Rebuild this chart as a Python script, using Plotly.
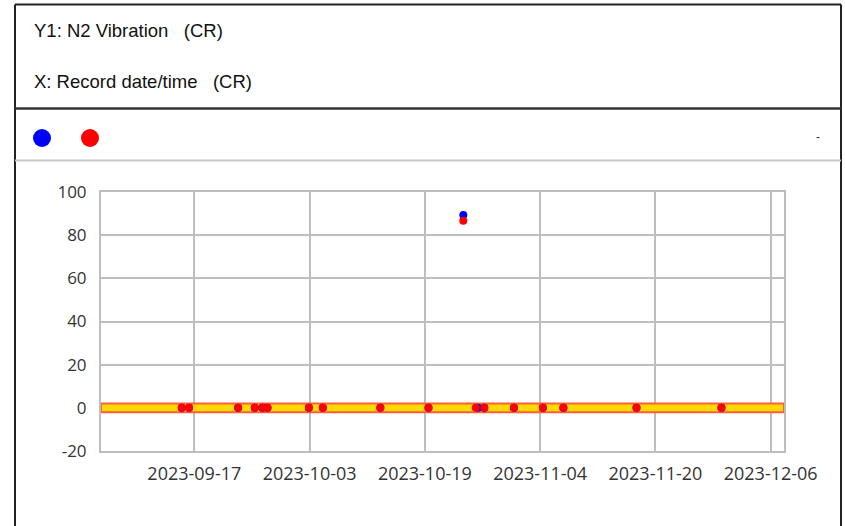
import plotly.graph_objects as go

# ---- data ----
red_dates = ["2023-09-15 06:00", "2023-09-16 06:30", "2023-09-23 02:00", "2023-09-25 09:30",
             "2023-09-26 11:00", "2023-09-27 03:40", "2023-10-02 21:40", "2023-10-04 20:00",
             "2023-10-12 19:45", "2023-10-19 12:00", "2023-10-24 08:00", "2023-10-26 01:30",
             "2023-10-27 06:00", "2023-10-31 08:40", "2023-11-04 09:00", "2023-11-07 05:30",
             "2023-11-17 09:00", "2023-11-29 04:00"]
red_values = [0, 0, 0, 0, 0, 0, 0, 0, 0, 0, 86.7, 0, 0, 0, 0, 0, 0, 0]

blue_dates = ["2023-09-15 06:00", "2023-09-16 06:30", "2023-09-23 02:00", "2023-09-25 09:30",
              "2023-09-26 11:00", "2023-09-27 03:40", "2023-10-02 21:40", "2023-10-04 20:00",
              "2023-10-12 19:45", "2023-10-19 12:00", "2023-10-24 08:00", "2023-10-26 09:00",
              "2023-10-27 06:00", "2023-10-31 08:40", "2023-11-04 09:00", "2023-11-07 05:30",
              "2023-11-17 09:00", "2023-11-29 04:00"]
blue_values = [0, 0, 0, 0, 0, 0, 0, 0, 0, 0, 89.3, 0, 0, 0, 0, 0, 0, 0]

x_tick_dates = ["2023-09-17", "2023-10-03", "2023-10-19", "2023-11-04", "2023-11-20", "2023-12-06"]
x_tick_labels = ["2023-09-17", "2023-10-03", "2023-10-19", "2023-11-04", "2023-11-20", "2023-12-06"]
y_tick_values = [-20, 0, 20, 40, 60, 80, 100]
y_tick_labels = ["-20", "0", "20", "40", "60", "80", "100"]
x_range = ["2023-09-04 01:10", "2023-12-07 20:20"]
y_range = [-20, 100]
band_low, band_high = -2, 2

header_y1 = "Y1: N2 Vibration\u00a0\u00a0\u00a0(CR)"
header_x = "X: Record date/time\u00a0\u00a0\u00a0(CR)"

# ---- layout geometry ----
W, H = 845, 526
L, R, T, B = 101, 61, 192, 75
PW, PH = W - L - R, H - T - B


def xp(px):
    return (px - L) / PW


def yp(py):
    return (H - B - py) / PH


fig = go.Figure()

# yellow limit band (drawn as a filled trace so it sits above the gridlines)
fig.add_trace(go.Scatter(
    x=[x_range[0], x_range[1], x_range[1], x_range[0], x_range[0]],
    y=[band_low, band_low, band_high, band_high, band_low],
    mode="lines", fill="toself", fillcolor="#FFDA00",
    line=dict(color="#FF5E3A", width=2), hoverinfo="skip", showlegend=False))

fig.add_trace(go.Scatter(x=blue_dates, y=blue_values, mode="markers",
                         marker=dict(color="#0000FF", size=8), name="blue", showlegend=False))
fig.add_trace(go.Scatter(x=red_dates, y=red_values, mode="markers",
                         marker=dict(color="#FF0000", size=8), name="red", showlegend=False))

shapes = []
# outer frame
frame_col = "#222222"
shapes.append(dict(type="line", xref="paper", yref="paper", x0=xp(15), x1=xp(15), y0=yp(4.5), y1=yp(540),
                   line=dict(color=frame_col, width=2)))
shapes.append(dict(type="line", xref="paper", yref="paper", x0=xp(841), x1=xp(841), y0=yp(4.5), y1=yp(540),
                   line=dict(color=frame_col, width=2)))
shapes.append(dict(type="line", xref="paper", yref="paper", x0=xp(15), x1=xp(841), y0=yp(4.5), y1=yp(4.5),
                   line=dict(color=frame_col, width=2)))
shapes.append(dict(type="line", xref="paper", yref="paper", x0=xp(15), x1=xp(841), y0=yp(108.5), y1=yp(108.5),
                   line=dict(color="#333333", width=2.5)))
shapes.append(dict(type="line", xref="paper", yref="paper", x0=xp(15), x1=xp(841), y0=yp(160.5), y1=yp(160.5),
                   line=dict(color="#C8C8C8", width=2)))
# legend dots
for cx, col in [(42, "#0000FF"), (90, "#FF0000")]:
    shapes.append(dict(type="circle", xref="paper", yref="paper",
                       x0=xp(cx - 9), x1=xp(cx + 9), y0=yp(138 + 9), y1=yp(138 - 9),
                       fillcolor=col, line=dict(width=0)))

hdr_font = dict(family="Liberation Sans, Arial, sans-serif", size=18.5, color="#111111")
annotations = [
    dict(text=header_y1, xref="paper", yref="paper", x=xp(32), y=yp(31), xanchor="left", yanchor="middle",
         showarrow=False, font=hdr_font),
    dict(text=header_x, xref="paper", yref="paper", x=xp(32), y=yp(82), xanchor="left", yanchor="middle",
         showarrow=False, font=hdr_font),
    dict(text="-", xref="paper", yref="paper", x=xp(818), y=yp(137), xanchor="center", yanchor="middle",
         showarrow=False, font=dict(family="Liberation Sans, Arial", size=12, color="#333333")),
]

grid_col = "#BEBEBE"
fig.update_layout(
    width=W, height=H,
    margin=dict(l=L, r=R, t=T, b=B, pad=0),
    paper_bgcolor="white", plot_bgcolor="white",
    showlegend=False,
    shapes=shapes, annotations=annotations,
    font=dict(family="Open Sans, Noto Sans, sans-serif", size=16, color="#333333"),
    xaxis=dict(type="date", range=x_range, tickvals=x_tick_dates, ticktext=x_tick_labels,
               showgrid=True, gridcolor=grid_col, gridwidth=2,
               showline=True, linecolor=grid_col, linewidth=2, mirror=True,
               ticks="", zeroline=False, tickfont=dict(size=18), ticklabelstandoff=5),
    yaxis=dict(range=y_range, tickvals=y_tick_values, ticktext=y_tick_labels,
               showgrid=True, gridcolor=grid_col, gridwidth=2,
               showline=True, linecolor=grid_col, linewidth=2, mirror=True,
               ticks="", zeroline=False, tickfont=dict(size=17), ticklabelstandoff=9),
)

fig.write_html("out.html", config={"displayModeBar": False},
               post_script="document.body.style.margin='0';document.body.style.padding='0';")
